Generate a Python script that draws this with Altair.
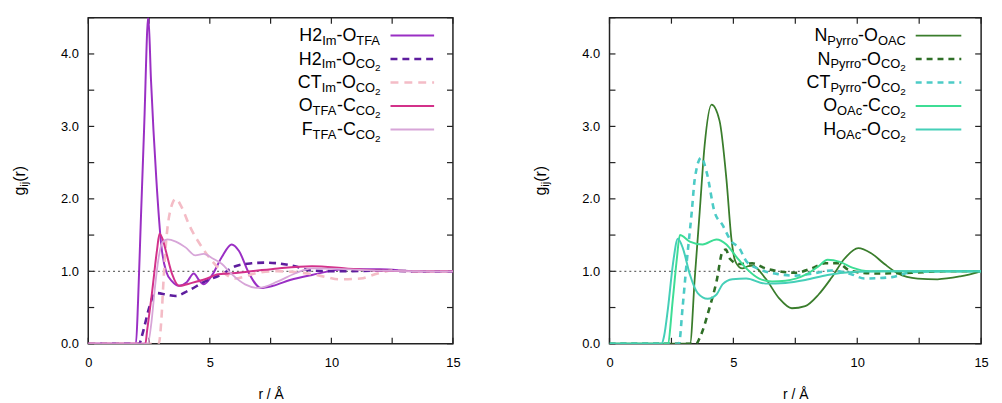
import altair as alt
import pandas as pd

FONT = "Liberation Sans"
W_L, W_R, H = 368, 375, 329

# ---------------- data : left panel (imidazolium / TFA) ----------------
r_h2_otfa = [0, 1.96, 2.05, 2.16, 2.3, 2.47, 2.58, 2.8, 3.0, 3.2, 3.45, 3.73, 4.05, 4.34, 4.55, 4.75,
             5.1, 5.5, 5.9, 6.2, 6.6, 7.1, 7.6, 8.3, 9.2, 10.6, 12.0, 13.5, 15.0]
g_h2_otfa = [0, 0, 0.6, 1.68, 3.0, 4.52, 3.64, 2.27, 1.37, 1.0, 0.86, 0.8, 0.85, 0.97, 0.88, 0.82,
             0.95, 1.2, 1.37, 1.28, 0.98, 0.77, 0.8, 0.88, 0.95, 1.03, 1.03, 1.0, 1.0]

r_h2_oco2 = [0, 2.1, 2.2, 2.5, 2.7, 2.8, 3.2, 3.6, 4.1, 4.8, 5.5, 6.05, 6.7, 7.3, 7.8, 8.5, 9.2,
             10.6, 12.0, 13.5, 15.0]
g_h2_oco2 = [0, 0, 0.1, 0.49, 0.68, 0.70, 0.68, 0.66, 0.73, 0.86, 0.96, 1.07, 1.11, 1.12, 1.11, 1.07,
             1.01, 1.0, 1.01, 1.0, 1.0]

r_ct_oco2 = [0, 2.9, 3.0, 3.1, 3.2, 3.35, 3.6, 3.85, 4.15, 4.7, 5.1, 5.5, 6.05, 6.45, 7.0, 7.8, 8.5,
             9.2, 9.8, 10.3, 11.2, 11.9, 12.5, 13.5, 15.0]
g_ct_oco2 = [0, 0, 0.3, 0.9, 1.4, 1.8, 2.0, 1.88, 1.64, 1.32, 1.14, 1.0, 0.9, 0.93, 0.98, 1.0, 0.99,
             0.96, 0.92, 0.89, 0.9, 0.97, 1.01, 1.0, 1.0]

r_otfa_cco2 = [0, 2.35, 2.42, 2.62, 2.83, 2.93, 3.05, 3.2, 3.45, 3.73, 4.26, 4.8, 5.35, 5.8, 6.7,
               7.8, 9.2, 10.6, 11.9, 13.5, 15.0]
g_otfa_cco2 = [0, 0, 0.18, 0.7, 1.3, 1.52, 1.45, 1.27, 0.96, 0.8, 0.84, 0.89, 0.96, 0.97, 1.0,
               1.04, 1.07, 1.04, 1.01, 1.0, 1.0]

r_ftfa_cco2 = [0, 2.45, 2.6, 2.75, 2.9, 3.05, 3.25, 3.6, 4.0, 4.4, 4.75, 5.1, 5.5, 5.9, 6.45, 7.0,
               7.8, 8.5, 9.2, 10.5, 12.0, 15.0]
g_ftfa_cco2 = [0, 0, 0.3, 0.8, 1.2, 1.4, 1.44, 1.41, 1.33, 1.22, 1.24, 1.18, 1.1, 0.96, 0.82, 0.77,
               0.86, 0.97, 1.04, 1.03, 1.01, 1.0]

# ---------------- data : right panel (pyrrolidinium / acetate) ----------------
r_n_ooac = [0, 3.25, 3.44, 3.64, 3.84, 4.12, 4.44, 4.72, 4.92, 5.04, 5.12, 5.36, 5.6, 5.76, 6.3, 6.84,
            7.36, 7.9, 8.44, 8.96, 9.5, 10.04, 10.56, 11.1, 11.64, 12.44, 13.24, 14.16, 15.0]
g_n_ooac = [0, 0, 0.9, 1.82, 2.74, 3.3, 3.08, 2.27, 1.45, 1.18, 1.11, 1.04, 1.07, 1.08, 0.9, 0.63,
            0.49, 0.52, 0.68, 0.91, 1.18, 1.32, 1.25, 1.1, 0.97, 0.9, 0.89, 0.93, 1.0]

r_n_oco2 = [0, 3.5, 3.64, 4.04, 4.32, 4.56, 4.7, 4.84, 5.24, 5.76, 6.3, 6.84, 7.5, 8.16, 8.7, 9.24,
            9.64, 10.2, 10.84, 12.2, 13.5, 15.0]
g_n_oco2 = [0, 0, 0.08, 0.5, 0.86, 1.27, 1.3, 1.18, 1.1, 1.11, 1.04, 1.0, 0.98, 1.04, 1.11, 1.11,
            1.02, 0.98, 0.97, 0.98, 1.0, 1.0]

r_ctp_oco2 = [0, 2.8, 2.95, 3.12, 3.32, 3.44, 3.7, 3.92, 4.24, 4.56, 4.92, 5.24, 5.52, 6.04, 6.84,
              7.5, 8.2, 8.96, 9.76, 10.3, 11.4, 12.2, 13.5, 15.0]
g_ctp_oco2 = [0, 0, 0.5, 1.14, 1.82, 2.27, 2.57, 2.37, 1.82, 1.64, 1.41, 1.32, 1.14, 1.03, 0.96,
              0.94, 0.97, 1.01, 0.96, 0.9, 0.92, 0.99, 1.0, 1.0]

r_oac_cco2 = [0, 2.35, 2.56, 2.72, 2.84, 3.24, 3.76, 4.32, 4.72, 5.12, 5.52, 6.04, 6.56, 7.1, 7.9,
              8.44, 8.8, 9.3, 9.8, 10.5, 12.0, 15.0]
g_oac_cco2 = [0, 0, 0.63, 1.18, 1.5, 1.41, 1.37, 1.44, 1.37, 1.2, 1.04, 0.9, 0.86, 0.87, 0.95,
              1.07, 1.16, 1.13, 1.05, 1.0, 1.0, 1.0]

r_hoac_oco2 = [0, 2.1, 2.2, 2.36, 2.56, 2.76, 2.96, 3.24, 3.56, 3.96, 4.32, 4.56, 4.96, 5.52, 6.3,
               7.1, 7.9, 8.8, 9.8, 11.0, 15.0]
g_hoac_oco2 = [0, 0, 0.1, 0.49, 1.1, 1.45, 1.32, 0.96, 0.7, 0.62, 0.68, 0.82, 0.89, 0.9, 0.83,
               0.84, 0.88, 0.95, 0.99, 1.0, 1.0]

# axis ticks / labels
x_major = [0, 5, 10, 15]
x_ticks = [0, 2.5, 5, 7.5, 10, 12.5, 15]
y_major = [0, 1, 2, 3, 4]
y_ticks = [0, 0.5, 1, 1.5, 2, 2.5, 3, 3.5, 4, 4.5]
ref_line = [1.0]

# legend labels: (text, kind) kind m=main, s=subscript, ss=sub-subscript
left_labels = [
    [("H2", "m"), ("Im", "s"), ("-", "m"), ("O", "m"), ("TFA", "s")],
    [("H2", "m"), ("Im", "s"), ("-", "m"), ("O", "m"), ("CO", "s"), ("2", "ss")],
    [("CT", "m"), ("Im", "s"), ("-", "m"), ("O", "m"), ("CO", "s"), ("2", "ss")],
    [("O", "m"), ("TFA", "s"), ("-", "m"), ("C", "m"), ("CO", "s"), ("2", "ss")],
    [("F", "m"), ("TFA", "s"), ("-", "m"), ("C", "m"), ("CO", "s"), ("2", "ss")],
]
right_labels = [
    [("N", "m"), ("Pyrro", "s"), ("-", "m"), ("O", "m"), ("OAC", "s")],
    [("N", "m"), ("Pyrro", "s"), ("-", "m"), ("O", "m"), ("CO", "s"), ("2", "ss")],
    [("CT", "m"), ("Pyrro", "s"), ("-", "m"), ("O", "m"), ("CO", "s"), ("2", "ss")],
    [("O", "m"), ("OAc", "s"), ("-", "m"), ("C", "m"), ("CO", "s"), ("2", "ss")],
    [("H", "m"), ("OAc", "s"), ("-", "m"), ("O", "m"), ("CO", "s"), ("2", "ss")],
]

left_series = [
    (r_h2_otfa, g_h2_otfa, "#9a2fc4", 2.0, None),
    (r_h2_oco2, g_h2_oco2, "#5e1d9e", 2.6, [7, 5]),
    (r_ct_oco2, g_ct_oco2, "#f4bcc6", 2.6, [8, 6]),
    (r_otfa_cco2, g_otfa_cco2, "#d3318a", 2.0, None),
    (r_ftfa_cco2, g_ftfa_cco2, "#d7a5d8", 1.8, None),
]
right_series = [
    (r_n_ooac, g_n_ooac, "#3a7d2c", 1.8, None),
    (r_n_oco2, g_n_oco2, "#2f6f27", 2.6, [6, 5]),
    (r_ctp_oco2, g_ctp_oco2, "#4ccbc6", 2.6, [6, 5]),
    (r_oac_cco2, g_oac_cco2, "#3ddd95", 2.0, None),
    (r_hoac_oco2, g_hoac_oco2, "#45cfb8", 2.0, None),
]

CHAR_W = {"H": 722, "2": 556, "I": 278, "m": 833, "-": 333, "O": 778, "T": 611, "F": 611,
          "A": 667, "C": 722, "N": 722, "P": 667, "y": 500, "r": 333, "o": 556, "c": 500,
          "g": 556, "i": 222, "j": 222, "(": 333, ")": 333}
SIZES = {"m": 18, "s": 13, "ss": 10}
SHIFT = {"m": 0, "s": 4, "ss": 7}


def tw(s, size):
    return sum(CHAR_W[c] for c in s) * size / 1000.0


one = pd.DataFrame({"a": [0]})

XSCALE = alt.Scale(domain=[0, 15], nice=False)
YSCALE = alt.Scale(domain=[0, 4.5], nice=False)
XAXIS = alt.Axis(values=x_major, title="r / Å", labelFlush=False, labelPadding=13,
                 titlePadding=18, format="d")
YAXIS = alt.Axis(values=y_major, title=None, format=".1f", labelPadding=10)


def X(field):
    return alt.X(field, type="quantitative", scale=XSCALE, axis=XAXIS)


def Y(field):
    return alt.Y(field, type="quantitative", scale=YSCALE, axis=YAXIS)


def panel(series, labels, W, text_right, line_x0, line_x1):
    layers = []
    # reference line g = 1
    layers.append(alt.Chart(pd.DataFrame({"v": ref_line})).mark_rule(
        color="#444", strokeWidth=1, strokeDash=[2, 3]).encode(
        y=Y("v"), x=alt.value(0), x2=alt.value(W)))
    # inward ticks
    xt = pd.DataFrame({"v": x_ticks})
    yt = pd.DataFrame({"v": y_ticks})
    layers.append(alt.Chart(xt).mark_rule(color="#222", strokeWidth=1.2).encode(
        x=X("v"), y=alt.value(H), y2=alt.value(H - 6)))
    layers.append(alt.Chart(xt).mark_rule(color="#222", strokeWidth=1.2).encode(
        x=X("v"), y=alt.value(0), y2=alt.value(6)))
    layers.append(alt.Chart(yt).mark_rule(color="#222", strokeWidth=1.2).encode(
        y=Y("v"), x=alt.value(0), x2=alt.value(6)))
    layers.append(alt.Chart(yt).mark_rule(color="#222", strokeWidth=1.2).encode(
        y=Y("v"), x=alt.value(W - 6), x2=alt.value(W)))
    # curves
    for r, g, col, sw, dash in series:
        kw = dict(color=col, strokeWidth=sw, interpolate="monotone", clip=True)
        if dash:
            kw["strokeDash"] = dash
        layers.append(alt.Chart(pd.DataFrame({"r": r, "g": g})).mark_line(**kw).encode(
            x=X("r"), y=Y("g")))
    # legend
    for i, (pieces, (r, g, col, sw, dash)) in enumerate(zip(labels, series)):
        ly = 18 + i * 23.7
        base = ly + 5.5
        total = sum(tw(t, SIZES[k]) for t, k in pieces)
        x = text_right - total
        for t, k in pieces:
            layers.append(alt.Chart(one).mark_text(
                text=t, font=FONT, fontSize=SIZES[k], align="left", baseline="alphabetic",
                color="black").encode(x=alt.value(x), y=alt.value(base + SHIFT[k])))
            x += tw(t, SIZES[k])
        kw = dict(color=col, strokeWidth=sw)
        if dash:
            kw["strokeDash"] = dash
        layers.append(alt.Chart(one).mark_rule(**kw).encode(
            x=alt.value(line_x0), x2=alt.value(line_x1), y=alt.value(ly)))
    # y title g_ij(r), rotated
    ypieces = [("g", 16, 0), ("ij", 11, 3), ("(r)", 16, 0)]
    total = sum(tw(t, s) for t, s, _ in ypieces)
    y = H / 2 + total / 2
    for t, s, sh in ypieces:
        layers.append(alt.Chart(one).mark_text(
            text=t, font=FONT, fontSize=s, align="left", baseline="alphabetic", angle=270,
            color="black").encode(x=alt.value(-64 + sh), y=alt.value(y)))
        y -= tw(t, s)
    return alt.layer(*layers).properties(width=W, height=H)


left = panel(left_series, left_labels, W_L, 295, 305, 349)
right = panel(right_series, right_labels, W_R, 299, 309, 355)

chart = alt.hconcat(left, right, spacing=72).properties(
    padding={"left": 3, "top": 6, "right": 5, "bottom": 2},
    background="white",
).configure_view(stroke="#222", strokeWidth=1.5).configure_axis(
    grid=False, ticks=False, tickSize=0, domain=False,
    labelFont=FONT, labelFontSize=13, labelColor="black",
    titleFont=FONT, titleFontSize=14, titleFontWeight="normal", titleColor="black",
)

chart.save("out.html", embed_options={"renderer": "svg", "actions": False})
